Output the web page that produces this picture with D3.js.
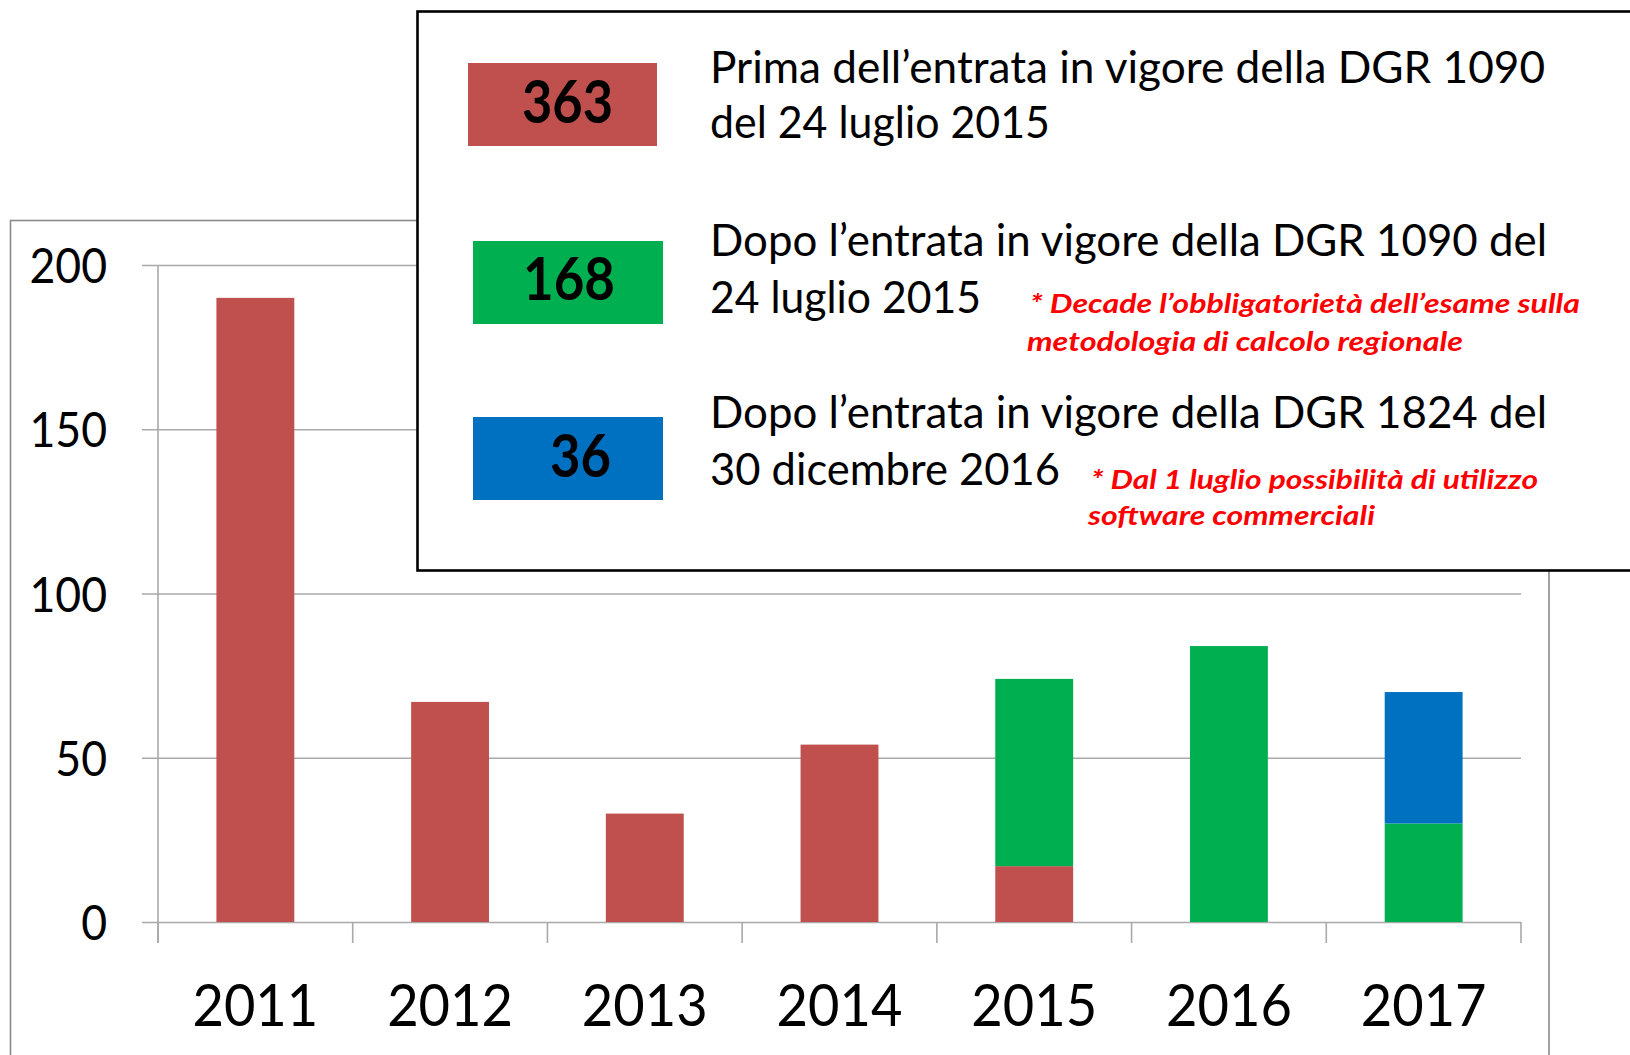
<!DOCTYPE html>
<html><head><meta charset="utf-8">
<script src="https://cdn.jsdelivr.net/npm/d3@7"></script>
<style>
html,body{margin:0;padding:0;background:#fff;overflow:hidden}
svg{display:block}
text{font-family:Lato,"Open Sans",sans-serif}
</style>
</head><body>
<svg id="c" width="1630" height="1055"></svg>
<script>
// ---- data ----
const years = ["2011", "2012", "2013", "2014", "2015", "2016", "2017"];
const before1090 = [190, 67, 33, 54, 17, 0, 0];
const after1090 = [0, 0, 0, 0, 57, 84, 30];
const after1824 = [0, 0, 0, 0, 0, 0, 40];
const yTicks = [0, 50, 100, 150, 200];
const seriesKeys = ["before1090", "after1090", "after1824"];
const seriesColors = ["#c0504d", "#00b050", "#0070c0"];
const legendTotals = ["363", "168", "36"];
const legendLines = [
  ["Prima dell\u2019entrata in vigore della DGR 1090", "del 24 luglio 2015"],
  ["Dopo l\u2019entrata in vigore della DGR 1090 del", "24 luglio 2015"],
  ["Dopo l\u2019entrata in vigore della DGR 1824 del", "30 dicembre 2016"]
];
const legendNotes = [
  null,
  ["* Decade l\u2019obbligatoriet\u00e0 dell\u2019esame sulla", "metodologia di calcolo regionale"],
  ["* Dal 1 luglio possibilit\u00e0 di utilizzo", "software commerciali"]
];

// ---- layout ----
const svg = d3.select("#c");
const x = d3.scaleBand().domain(years).range([158, 1521]).paddingInner(0.6).paddingOuter(0.3);
const y = d3.scaleLinear().domain([0, 200]).range([922, 265]);

// outer chart frame
svg.append("rect").attr("x", 10.5).attr("y", 220.5).attr("width", 1538.5).attr("height", 900)
  .attr("fill", "#fff").attr("stroke", "#8a8a8a").attr("stroke-width", 1.6);

// y axis with gridlines
const gy = svg.append("g").attr("transform", "translate(1521,0)")
  .call(d3.axisLeft(y).tickValues(yTicks).tickSize(1521 - 142).tickPadding(0));
gy.select(".domain").remove();
gy.selectAll(".tick line").attr("stroke", "#a9a9a9").attr("stroke-width", 1.6);
gy.selectAll(".tick text")
  .attr("x", null).attr("dy", null)
  .attr("transform", "translate(" + (107 - 1521) + ",17.5) scale(0.91,1)")
  .attr("text-anchor", "end")
  .style("font-size", "49px").attr("fill", "#000");

// y axis vertical line
svg.append("line").attr("x1", 158).attr("x2", 158).attr("y1", y(200)).attr("y2", 943)
  .attr("stroke", "#a9a9a9").attr("stroke-width", 1.6);

// x axis: boundary ticks
const bounds = d3.range(years.length + 1).map(i => x.range()[0] + i * x.step());
svg.append("g").selectAll("line").data(bounds).join("line")
  .attr("x1", d => d).attr("x2", d => d).attr("y1", y(0)).attr("y2", 943)
  .attr("stroke", "#a9a9a9").attr("stroke-width", 1.6);

// x labels
const gx = svg.append("g").attr("transform", "translate(0," + y(0) + ")")
  .call(d3.axisBottom(x).tickSize(0).tickPadding(0));
gx.select(".domain").remove();
gx.selectAll(".tick text")
  .attr("y", null).attr("dy", null)
  .attr("transform", "translate(0,104) scale(0.92,1)")
  .attr("text-anchor", "middle")
  .style("font-size", "59px").attr("fill", "#000");

// stacked bars
const table = years.map((yr, i) => ({
  year: yr, before1090: before1090[i], after1090: after1090[i], after1824: after1824[i]
}));
const stacked = d3.stack().keys(seriesKeys)(table);
svg.append("g").selectAll("g").data(stacked).join("g")
  .attr("fill", (d, i) => seriesColors[i])
  .selectAll("rect").data(d => d.filter(s => s[1] > s[0])).join("rect")
  .attr("x", d => x(d.data.year))
  .attr("y", d => y(d[1]))
  .attr("width", x.bandwidth())
  .attr("height", d => y(d[0]) - y(d[1]));

// ---- legend box ----
svg.append("rect").attr("x", 417.5).attr("y", 11.5).attr("width", 1400).attr("height", 559)
  .attr("fill", "#fff").attr("stroke", "#000").attr("stroke-width", 2.6);

const swatches = [
  {x: 468, y: 63, w: 189, h: 83, tx: 522, tb: 123, tw: 91},
  {x: 473, y: 241, w: 190, h: 83, tx: 523, tb: 300, tw: 92},
  {x: 473, y: 417, w: 190, h: 83, tx: 550, tb: 477, tw: 61}
];
const lineLayout = [
  [{x: 710, b: 83, w: 835}, {x: 710, b: 138, w: 340}],
  [{x: 710, b: 256, w: 837}, {x: 710, b: 313, w: 271}],
  [{x: 710, b: 428, w: 837}, {x: 710, b: 485, w: 350}]
];
const noteLayout = [
  null,
  [{x: 1030, b: 313, w: 550}, {x: 1027, b: 351, w: 436}],
  [{x: 1091, b: 489, w: 447}, {x: 1088, b: 525, w: 287}]
];

const lg = svg.append("g");
swatches.forEach((s, i) => {
  lg.append("rect").attr("x", s.x).attr("y", s.y).attr("width", s.w).attr("height", s.h)
    .attr("fill", seriesColors[i]);
  lg.append("text").attr("x", s.tx).attr("y", s.tb).text(legendTotals[i])
    .attr("textLength", s.tw).attr("lengthAdjust", "spacingAndGlyphs")
    .style("font-size", "60px").style("font-weight", "700").attr("fill", "#000");

  const t = lg.append("text").style("font-size", "45px").attr("fill", "#000");
  legendLines[i].forEach((line, j) => {
    const L = lineLayout[i][j];
    t.append("tspan").attr("x", L.x).attr("y", L.b).text(line)
      .attr("textLength", L.w).attr("lengthAdjust", "spacingAndGlyphs");
  });

  if (legendNotes[i]) {
    const n = lg.append("text")
      .style("font-size", "26px").style("font-weight", "700").style("font-style", "italic")
      .attr("fill", "#ff0000");
    legendNotes[i].forEach((line, j) => {
      const L = noteLayout[i][j];
      n.append("tspan").attr("x", L.x).attr("y", L.b).text(line)
        .attr("textLength", L.w).attr("lengthAdjust", "spacingAndGlyphs");
    });
  }
});
</script>
</body></html>
